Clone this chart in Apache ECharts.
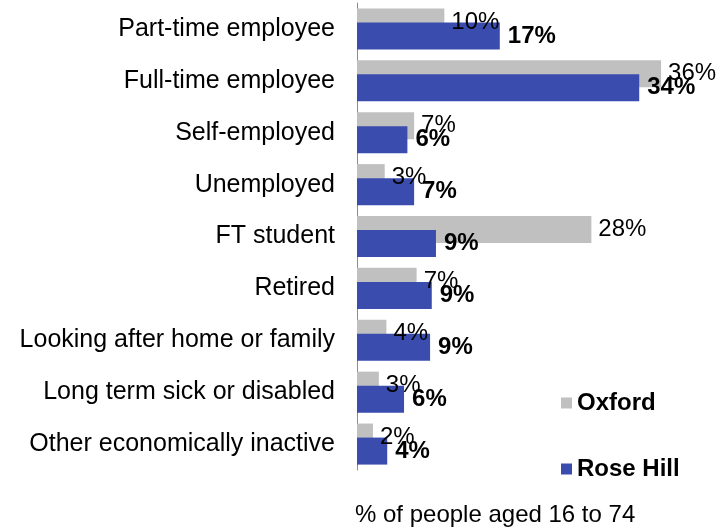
<!DOCTYPE html>
<html>
<head>
<meta charset="utf-8">
<script src="https://cdn.jsdelivr.net/npm/echarts@6/dist/echarts.min.js"></script>
<style>
html,body{margin:0;padding:0;background:#fff;}
#chart{width:720px;height:528px;}
</style>
</head>
<body>
<div id="chart"></div>
<script>
var categories = ['Part-time employee','Full-time employee','Self-employed','Unemployed','FT student','Retired','Looking after home or family','Long term sick or disabled','Other economically inactive'];
var oxford = [10.4, 36.2, 6.8, 3.3, 27.9, 7.1, 3.5, 2.6, 1.9];
var roseHill = [17.0, 33.6, 6.0, 6.8, 9.4, 8.9, 8.7, 5.6, 3.6];
var seriesNames = ['Oxford','Rose Hill'];
var axisTitle = '% of people aged 16 to 74';

var FONT = '"Liberation Sans", Arial, sans-serif';
var chart = echarts.init(document.getElementById('chart'), null, {renderer:'canvas'});
chart.setOption({
  animation:false,
  backgroundColor:'#fff',
  grid:{left:357, right:27, top:3, bottom:58, containLabel:false},
  xAxis:{type:'value', min:0, max:40, show:false},
  yAxis:{type:'category', data:categories, inverse:true,
    axisLine:{show:true, lineStyle:{color:'#8c8c8c', width:1}},
    axisTick:{show:false},
    axisLabel:{fontFamily:FONT, fontSize:25, color:'#000', margin:22, padding:[3,0,0,0]}
  },
  legend:{
    orient:'vertical', left:556, top:386,
    itemWidth:11, itemHeight:11, itemGap:42, icon:'rect',
    textStyle:{fontFamily:FONT, fontSize:24, fontWeight:'bold', color:'#000', lineHeight:24},
    data:seriesNames
  },
  series:[
    {name:seriesNames[0], type:'bar', data:oxford, barWidth:27, barGap:'-48%',
     itemStyle:{color:'#c0c0c0'},
     label:{show:true, position:'right', distance:7, fontFamily:FONT, fontSize:24, color:'#000',
       formatter:function(p){return Math.round(p.value)+'%';}}
    },
    {name:seriesNames[1], type:'bar', data:roseHill, barWidth:27, barGap:'-48%',
     itemStyle:{color:'#3a4cae'},
     label:{show:true, position:'right', distance:8, fontFamily:FONT, fontSize:24, fontWeight:'bold', color:'#000',
       formatter:function(p){return Math.round(p.value)+'%';}}
    }
  ],
  graphic:[{type:'text', left:355, top:503, style:{text:axisTitle, font:'24px '+FONT, fill:'#000'}}]
});
</script>
</body>
</html>
